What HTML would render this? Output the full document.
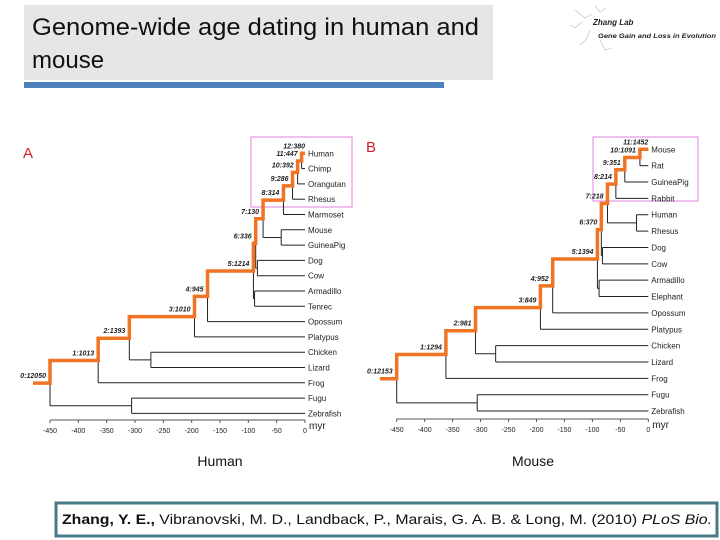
<!DOCTYPE html>
<html><head><meta charset="utf-8"><style>
html,body{margin:0;padding:0;background:#fff;width:720px;height:540px;overflow:hidden}
svg text{font-family:"Liberation Sans",sans-serif}
</style></head><body>
<svg id="root" width="720" height="540" viewBox="0 0 720 540" xmlns="http://www.w3.org/2000/svg">
<rect x="24" y="5" width="469" height="75" fill="#e6e6e6"/>
<text x="32" y="35" font-size="24" fill="#111" textLength="447" lengthAdjust="spacingAndGlyphs">Genome-wide age dating in human and</text>
<text x="32" y="68" font-size="24" fill="#111">mouse</text>
<rect x="24" y="82" width="420" height="6" fill="#4f81bd"/>
<g stroke="#bbb" stroke-width="0.6" fill="none">
<path d="M575 10 L585 18 L592 14 M582 22 L575 28 L570 25 M590 30 L586 40 L580 45 M600 40 L605 50 L612 48 M595 6 L600 12 L606 8"/>
<text x="593" y="25" font-size="8" font-weight="bold" font-style="italic" fill="#222" stroke="none">Zhang Lab</text>
<text x="598" y="38" font-size="6.5" font-weight="bold" font-style="italic" fill="#222" stroke="none" textLength="118" lengthAdjust="spacingAndGlyphs">Gene Gain and Loss in Evolution</text>
</g>
<g id="treeA"></g>
<g id="treeB"></g>
<text x="220" y="466" font-size="14" text-anchor="middle" fill="#111">Human</text>
<text x="533" y="466" font-size="14" text-anchor="middle" fill="#111">Mouse</text>
<rect x="56" y="503" width="661" height="33" fill="#fff" stroke="#4a7a88" stroke-width="3"/>
<text x="62" y="524" font-size="14" fill="#111" textLength="650" lengthAdjust="spacingAndGlyphs"><tspan font-weight="bold">Zhang, Y. E.,</tspan> Vibranovski, M. D., Landback, P., Marais, G. A. B. &amp; Long, M. (2010) <tspan font-style="italic">PLoS Bio.</tspan></text>
</svg>
<script>
// ---- Tree A (human) data ----
const leavesA = ["Human","Chimp","Orangutan","Rhesus","Marmoset","Mouse","GuineaPig","Dog","Cow","Armadillo","Tenrec","Opossum","Platypus","Chicken","Lizard","Frog","Fugu","Zebrafish"];
const nodeAgesA = [-450,-365,-310,-195,-172,-91,-87,-74,-38,-22,-13,-6,-42,-84,-89,-272,-306];
// child refs: >=0 leaf index, <0 node index -(i+1)
const nodeChildrenA = [[-2,-17],[-3,15],[-4,-16],[-5,12],[-6,11],[-7,-15],[-8,-14],[-9,-13],[-10,4],[-11,3],[-12,2],[0,1],[5,6],[7,8],[9,10],[13,14],[16,17]];
const pathA = [0,1,2,3,4,5,6,7,8,9,10,11];
const pathLabelsA = ["0:12050","1:1013","2:1393","3:1010","4:945","5:1214","6:336","7:130","8:314","9:286","10:392","11:447","12:380"];
const ticksA = [-450,-400,-350,-300,-250,-200,-150,-100,-50,0];
// ---- Tree B (mouse) data ----
const leavesB = ["Mouse","Rat","GuineaPig","Rabbit","Human","Rhesus","Dog","Cow","Armadillo","Elephant","Opossum","Platypus","Chicken","Lizard","Frog","Fugu","Zebrafish"];
const nodeAgesB = [-450,-362,-309,-193,-171,-91,-84,-73,-58,-42,-15,-21,-82,-88,-273,-306];
const nodeChildrenB = [[-2,-16],[-3,14],[-4,-15],[-5,11],[-6,10],[-7,-14],[-8,-13],[-9,-12],[-10,3],[-11,2],[0,1],[4,5],[6,7],[8,9],[12,13],[15,16]];
const pathB = [0,1,2,3,4,5,6,7,8,9,10];
const pathLabelsB = ["0:12153","1:1294","2:981","3:849","4:952","5:1394","6:370","7:218","8:214","9:351","10:1091","11:1452"];
const ticksB = [-450,-400,-350,-300,-250,-200,-150,-100,-50,0];
const stemStart = -480;

const NS="http://www.w3.org/2000/svg";
function mk(parent,tag,attrs){const e=document.createElementNS(NS,tag);for(const k in attrs)e.setAttribute(k,attrs[k]);parent.appendChild(e);return e;}

function drawTree(g,cfg,leaves,ages,children,path,labels,ticks){
  const x=a=>cfg.x0+a*cfg.sx;
  const ly=i=>cfg.y0+i*cfg.dy;
  const ny=[];
  function yOf(ref){return ref>=0?ly(ref):nodeY(-ref-1);}
  function nodeY(i){if(ny[i]===undefined){const c=children[i];ny[i]=(yOf(c[0])+yOf(c[1]))/2;}return ny[i];}
  function ageOf(ref){return ref>=0?0:ages[-ref-1];}
  // pink highlight box
  const box=mk(g,'rect',{x:cfg.box[0],y:cfg.box[1],width:cfg.box[2],height:cfg.box[3],fill:'none',stroke:'#e080e0','stroke-width':1});
  
  
  // black branches
  for(let i=0;i<ages.length;i++){
    const px=x(ages[i]);
    const c=children[i];
    const ys=c.map(yOf);
    const v=mk(g,'line',{x1:px,x2:px,y1:ys[0],y2:ys[1],stroke:'#222','stroke-width':1});
    
    
    c.forEach((r,k)=>{
      const h=mk(g,'line',{x1:px,x2:x(ageOf(r)),y1:ys[k],y2:ys[k],stroke:'#222','stroke-width':1});
      
      
    });
  }
  // leaf labels
  leaves.forEach((n,i)=>{
    const t=mk(g,'text',{x:x(0)+3,y:ly(i)+3,'font-size':8,fill:'#222'});
    t.textContent=n;
    
    
  });
  // orange path
  let pts=[[x(stemStart),nodeY(path[0])],[x(ages[path[0]]),nodeY(path[0])]];
  const seq=path.map(i=>-(i+1)).concat([0]);
  for(let k=1;k<seq.length;k++){
    const prevX=x(ageOf(seq[k-1])), cy=yOf(seq[k]);
    pts.push([prevX,cy]); pts.push([x(ageOf(seq[k])),cy]);
  }
  const pl=mk(g,'polyline',{points:pts.map(p=>p.join(',')).join(' '),fill:'none',stroke:'#f07424','stroke-width':3.5,'stroke-linejoin':'miter'});
  
  
  // path labels
  for(let k=0;k<seq.length;k++){
    const r=seq[k];
    const ax=x(ageOf(r)), ay=yOf(r);
    const t=mk(g,'text',{x:ax-(k===seq.length-1?0:4),y:ay-5,'font-size':7,'font-weight':'bold','font-style':'italic','text-anchor':'end',fill:'#222'});
    t.textContent=labels[k];
    
    
  }
  // axis
  const ax=mk(g,'line',{x1:x(ticks[0]),x2:x(0),y1:cfg.axisY,y2:cfg.axisY,stroke:'#555','stroke-width':1});
  
  
  ticks.forEach(v=>{
    const tk=mk(g,'line',{x1:x(v),x2:x(v),y1:cfg.axisY,y2:cfg.axisY+3,stroke:'#555','stroke-width':1});
    
    
    const t=mk(g,'text',{x:x(v),y:cfg.axisY+13,'font-size':7,'text-anchor':'middle',fill:'#222'});
    t.textContent=v;
    
    
  });
  const u=mk(g,'text',{x:x(0)+4,y:cfg.axisY+9,'font-size':10,fill:'#222'});
  u.textContent='myr';
  
  
  const L=mk(g,'text',{x:cfg.letter[0],y:cfg.letter[1],'font-size':15,fill:'#d0202a'});
  L.textContent=cfg.letter[2];
  
  
}
drawTree(document.getElementById('treeA'),{x0:305,sx:255/450,y0:153.3,dy:15.3,axisY:420,box:[251,137,101,70],letter:[23,158,'A']},leavesA,nodeAgesA,nodeChildrenA,pathA,pathLabelsA,ticksA);
drawTree(document.getElementById('treeB'),{x0:648.3,sx:251.6/450,y0:149.3,dy:16.36,axisY:419,box:[593,137,105,64],letter:[366,152,'B']},leavesB,nodeAgesB,nodeChildrenB,pathB,pathLabelsB,ticksB);
</script>
</body></html>
